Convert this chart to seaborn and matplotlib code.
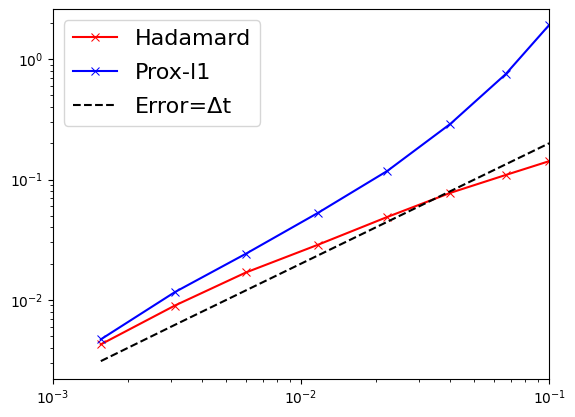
import seaborn as sns
import matplotlib.pyplot as plt

# time steps and errors
dt = [0.00156, 0.0031, 0.006, 0.0117, 0.0223, 0.04, 0.0668, 0.1]
err_hadamard = [0.00427, 0.00897, 0.0169, 0.0287, 0.0489, 0.0775, 0.109, 0.142]
err_prox = [0.0047, 0.0116, 0.0242, 0.0528, 0.118, 0.29, 0.75, 1.92]
err_ref = [0.0031, 0.0062, 0.012, 0.0234, 0.0446, 0.08, 0.1336, 0.2]


def main():
    fig, ax = plt.subplots(figsize=(5.75, 4.17), dpi=100)
    fig.subplots_adjust(left=0.092, right=0.955, bottom=0.091, top=0.978)

    sns.lineplot(x=dt, y=err_hadamard, ax=ax, color='red', marker='x',
                 markeredgecolor='red', label='Hadamard')
    sns.lineplot(x=dt, y=err_prox, ax=ax, color='blue', marker='x',
                 markeredgecolor='blue', label='Prox-l1')
    sns.lineplot(x=dt, y=err_ref, ax=ax, color='black', linestyle='--',
                 label='Error=Δt')

    ax.set_xscale('log')
    ax.set_yscale('log')
    ax.set_xlim(1e-3, 1e-1)
    ax.set_ylim(0.0022, 2.6)
    ax.legend(fontsize=16, loc='upper left', labelspacing=0.62)

    fig.savefig('out.png')


if __name__ == '__main__':
    main()
